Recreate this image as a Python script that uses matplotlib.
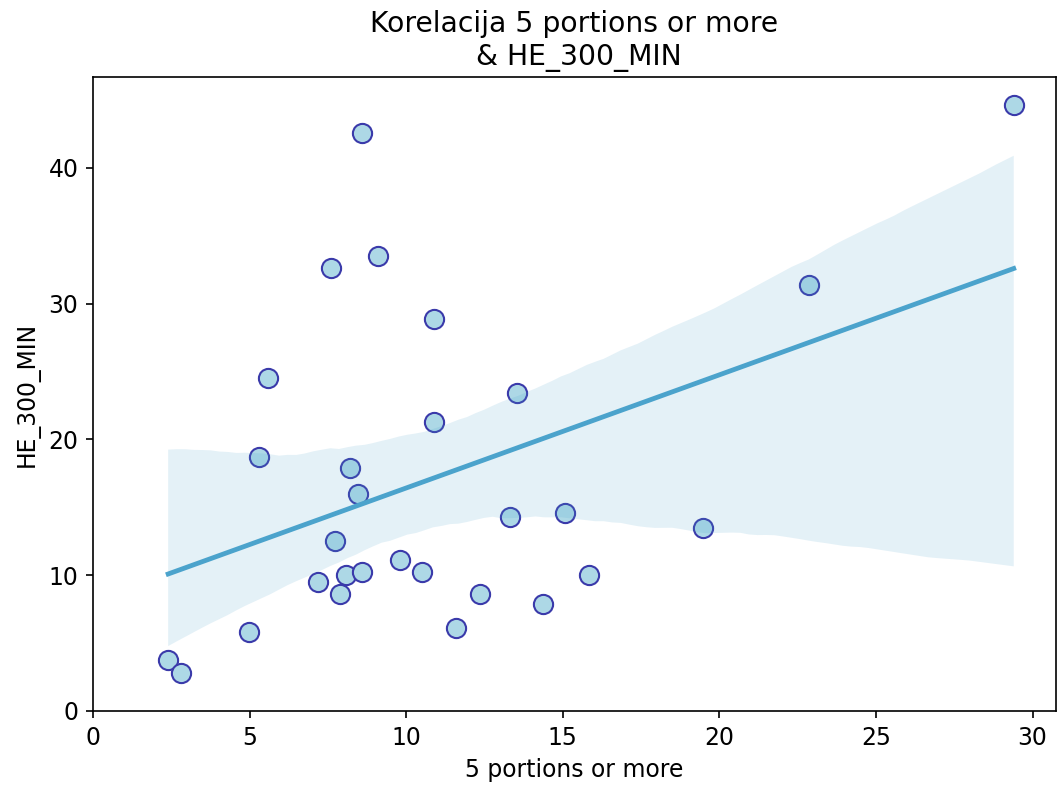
import matplotlib
matplotlib.use("Agg")
import matplotlib.pyplot as plt
import seaborn as sns
import pandas as pd

portions = [2.4, 2.8, 4.98, 5.29, 5.6, 7.18, 7.6, 7.72, 7.88, 8.07, 8.2, 8.45, 8.58, 8.58, 9.1,
            9.8, 10.5, 10.88, 10.88, 11.6, 12.35, 13.3, 13.55, 14.38, 15.08, 15.84, 19.47, 22.85, 29.4]
he_300 = [3.75, 2.8, 5.8, 18.7, 24.5, 9.5, 32.6, 12.5, 8.6, 10.0, 17.9, 16.0, 10.2, 42.6, 33.5,
          11.1, 10.2, 28.9, 21.25, 6.1, 8.6, 14.3, 23.45, 7.9, 14.6, 10.0, 13.5, 31.4, 44.6]

df = pd.DataFrame({"5 portions or more": portions, "HE_300_MIN": he_300})

plt.rcParams["font.size"] = 11.3

fig = plt.figure(figsize=(1058 / 150, 787 / 150), dpi=150)
ax = fig.add_axes([93 / 1058, 1 - 711 / 787, (1056 - 93) / 1058, (711 - 77) / 787])

sns.regplot(data=df, x="5 portions or more", y="HE_300_MIN", ax=ax, color="#4ba3cc", seed=3,
            scatter_kws={"s": 85, "facecolor": "lightblue", "edgecolor": "#3a3aaa", "linewidths": 1, "alpha": 1},
            line_kws={"lw": 2.3})

ax.set_xlim(left=0)
ax.set_ylim(bottom=0)
ax.set_title("Korelacija 5 portions or more\n & HE_300_MIN")

fig.savefig("out.png", dpi=150)
